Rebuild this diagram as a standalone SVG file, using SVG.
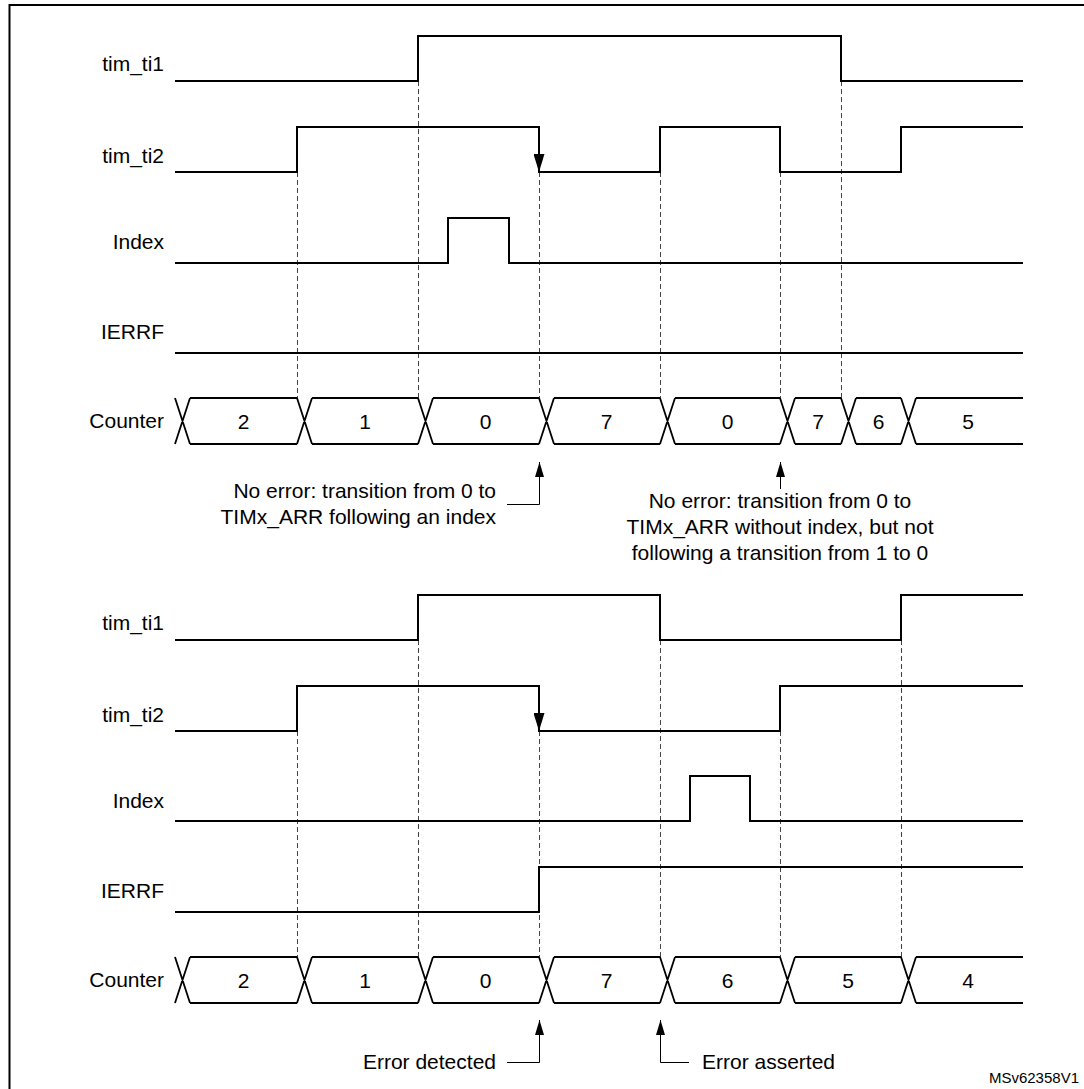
<svg xmlns="http://www.w3.org/2000/svg" width="1084" height="1089" viewBox="0 0 1084 1089">
<defs>
<style>
.lbl{font-family:"Liberation Sans",Arial,sans-serif;font-size:21px;fill:#000}
.r{text-anchor:end}
.m{text-anchor:middle}
.sig{fill:none;stroke:#000;stroke-width:2}
.cnt{fill:none;stroke:#000;stroke-width:1.8}
.dash{fill:none;stroke:#444;stroke-width:1;stroke-dasharray:5,3}
.ann{fill:none;stroke:#000;stroke-width:1}
</style>
<marker id="edgeArrow" markerUnits="userSpaceOnUse" markerWidth="18" markerHeight="11" refX="18" refY="5.5" orient="auto">
<path d="M0,0 L18,5.5 L0,11 z" fill="#000"/>
</marker>
<marker id="annArrow" markerUnits="userSpaceOnUse" markerWidth="15" markerHeight="9" refX="15" refY="4.5" orient="auto">
<path d="M0,0 L15,4.5 L0,9 z" fill="#000"/>
</marker>
</defs>
<rect width="1084" height="1089" fill="#fff"/>
<path id="frame" d="M9.5,1089 V5 H1084" fill="none" stroke="#000" stroke-width="2"/>

<g id="connectors">
<g id="dashed-top">
<path class="dash" d="M297.5,172 V398 M418.5,81 V398 M539.5,172 V398 M660.5,172 V398 M780.5,172 V398 M841.5,81 V398"/>
</g>
<g id="dashed-bottom">
<path class="dash" d="M297.5,731 V957 M418.5,640 V957 M539.5,731 V957 M660.5,640 V957 M780.5,731 V957 M901.5,640 V957"/>
</g>
<path id="edge-top" class="sig" d="M539,127 V172" marker-end="url(#edgeArrow)"/>
<path id="edge-bottom" class="sig" d="M539,686 V731" marker-end="url(#edgeArrow)"/>
<path id="arrow-noerr1" class="ann" d="M507,504.5 H539.5 V462" marker-end="url(#annArrow)"/>
<path id="arrow-noerr2" class="ann" d="M780.5,489 V462" marker-end="url(#annArrow)"/>
<path id="arrow-detected" class="ann" d="M507,1062.5 H539.5 V1020" marker-end="url(#annArrow)"/>
<path id="arrow-asserted" class="ann" d="M689,1062.5 H660.5 V1020" marker-end="url(#annArrow)"/>
</g>

<g id="top-tim_ti1">
<text class="lbl r" x="164" y="71">tim_ti1</text>
<path class="sig" d="M175,81 H418 V36 H841 V81 H1023"/>
</g>
<g id="top-tim_ti2">
<text class="lbl r" x="164" y="163">tim_ti2</text>
<path class="sig" d="M175,172 H297 V127 H539 V172 H660 V127 H780 V172 H901 V127 H1023"/>
</g>
<g id="top-index">
<text class="lbl r" x="164" y="249">Index</text>
<path class="sig" d="M175,263 H448 V218 H509 V263 H1023"/>
</g>
<g id="top-ierrf">
<text class="lbl r" x="164" y="339">IERRF</text>
<path class="sig" d="M175,353 H1023"/>
</g>
<g id="top-counter">
<text class="lbl r" x="164" y="428">Counter</text>
<path class="cnt" d="M175,398 L190,444 M175,444 L190,398 M297,398 L312,444 M297,444 L312,398 M418,398 L433,444 M418,444 L433,398 M539,398 L554,444 M539,444 L554,398 M660,398 L675,444 M660,444 L675,398 M780,398 L795,444 M780,444 L795,398 M841,398 L856,444 M841,444 L856,398 M901,398 L916,444 M901,444 L916,398 M190,398 H297 M190,444 H297 M312,398 H418 M312,444 H418 M433,398 H539 M433,444 H539 M554,398 H660 M554,444 H660 M675,398 H780 M675,444 H780 M795,398 H841 M795,444 H841 M856,398 H901 M856,444 H901 M916,398 H1023 M916,444 H1023"/>
<text class="lbl m" x="243.5" y="428.5">2</text>
<text class="lbl m" x="365" y="428.5">1</text>
<text class="lbl m" x="485.5" y="428.5">0</text>
<text class="lbl m" x="606.5" y="428.5">7</text>
<text class="lbl m" x="727.5" y="428.5">0</text>
<text class="lbl m" x="818" y="428.5">7</text>
<text class="lbl m" x="878.5" y="428.5">6</text>
<text class="lbl m" x="968" y="428.5">5</text>
</g>

<g id="note-noerr1">
<text class="lbl r" x="496" y="498">No error: transition from 0 to</text>
<text class="lbl r" x="496" y="524">TIMx_ARR following an index</text>
</g>
<g id="note-noerr2">
<text class="lbl m" x="780" y="508">No error: transition from 0 to</text>
<text class="lbl m" x="780" y="534">TIMx_ARR without index, but not</text>
<text class="lbl m" x="780" y="560">following a transition from 1 to 0</text>
</g>

<g id="bot-tim_ti1">
<text class="lbl r" x="164" y="630">tim_ti1</text>
<path class="sig" d="M175,640 H418 V595 H660 V640 H901 V595 H1023"/>
</g>
<g id="bot-tim_ti2">
<text class="lbl r" x="164" y="722">tim_ti2</text>
<path class="sig" d="M175,731 H297 V686 H539 V731 H780 V686 H1023"/>
</g>
<g id="bot-index">
<text class="lbl r" x="164" y="808">Index</text>
<path class="sig" d="M175,821 H690 V776 H750 V821 H1023"/>
</g>
<g id="bot-ierrf">
<text class="lbl r" x="164" y="898">IERRF</text>
<path class="sig" d="M175,912 H539 V867 H1023"/>
</g>
<g id="bot-counter">
<text class="lbl r" x="164" y="987">Counter</text>
<path class="cnt" d="M175,957 L190,1003 M175,1003 L190,957 M297,957 L312,1003 M297,1003 L312,957 M418,957 L433,1003 M418,1003 L433,957 M539,957 L554,1003 M539,1003 L554,957 M660,957 L675,1003 M660,1003 L675,957 M780,957 L795,1003 M780,1003 L795,957 M901,957 L916,1003 M901,1003 L916,957 M190,957 H297 M190,1003 H297 M312,957 H418 M312,1003 H418 M433,957 H539 M433,1003 H539 M554,957 H660 M554,1003 H660 M675,957 H780 M675,1003 H780 M795,957 H901 M795,1003 H901 M916,957 H1023 M916,1003 H1023"/>
<text class="lbl m" x="243.5" y="987.5">2</text>
<text class="lbl m" x="365" y="987.5">1</text>
<text class="lbl m" x="485.5" y="987.5">0</text>
<text class="lbl m" x="606.5" y="987.5">7</text>
<text class="lbl m" x="727.5" y="987.5">6</text>
<text class="lbl m" x="848" y="987.5">5</text>
<text class="lbl m" x="968" y="987.5">4</text>
</g>

<g id="note-detected">
<text class="lbl r" x="496" y="1069">Error detected</text>
</g>
<g id="note-asserted">
<text class="lbl" x="702" y="1069">Error asserted</text>
</g>
<text id="ref-code" x="1079" y="1083" font-family="Liberation Sans, Arial, sans-serif" font-size="15" text-anchor="end">MSv62358V1</text>
</svg>
